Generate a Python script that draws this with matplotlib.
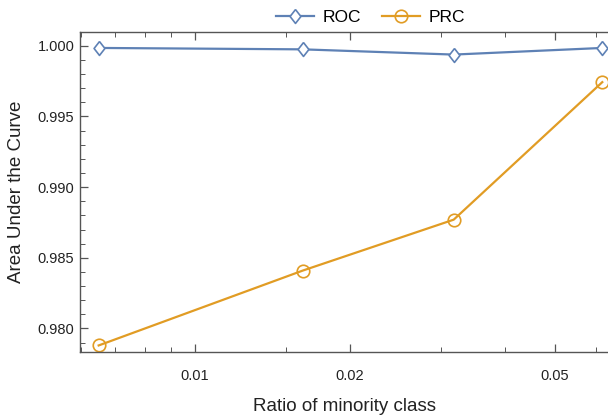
import matplotlib.pyplot as plt
from matplotlib.ticker import FixedLocator, NullFormatter, FixedFormatter

plt.rcParams['font.family'] = ['Liberation Sans', 'DejaVu Sans']

# data
ratio = [0.0065, 0.0162, 0.0318, 0.0618]
roc = [0.99985, 0.99975, 0.99938, 0.99985]
prc = [0.9788, 0.9841, 0.9877, 0.99743]

blue = '#5E81B5'
orange = '#E19C24'
axis_col = '#555555'

fig = plt.figure(figsize=(6.08, 4.17), dpi=100)
ax = fig.add_axes([0.1316, 0.156, 0.8684, 0.767])

diamond = [(0, 1), (0.78, 0), (0, -1), (-0.78, 0), (0, 1)]
ax.plot(ratio, roc, color=blue, linewidth=1.6, marker=diamond, markersize=10,
        markerfacecolor='white', markeredgecolor=blue, markeredgewidth=1.2,
        label='ROC')
ax.plot(ratio, prc, color=orange, linewidth=1.6, marker='o', markersize=9,
        markerfacecolor='none', markeredgecolor=orange, markeredgewidth=1.2,
        label='PRC')

ax.set_xscale('log')
ax.set_xlim(0.00598, 0.0634)
ax.set_ylim(0.97834, 1.00097)

ax.xaxis.set_major_locator(FixedLocator([0.01, 0.02, 0.05]))
ax.xaxis.set_major_formatter(FixedFormatter(['0.01', '0.02', '0.05']))
ax.xaxis.set_minor_locator(FixedLocator([0.006, 0.007, 0.008, 0.009, 0.015,
                                         0.03, 0.04, 0.06]))
ax.xaxis.set_minor_formatter(NullFormatter())

yt = [0.980, 0.985, 0.990, 0.995, 1.000]
ax.yaxis.set_major_locator(FixedLocator(yt))
ax.yaxis.set_major_formatter(FixedFormatter([f'{v:.3f}' for v in yt]))
ax.yaxis.set_minor_locator(FixedLocator([0.979 + 0.001 * i for i in range(22)]))

ax.tick_params(which='both', direction='in', top=True, right=False,
               color=axis_col, labelsize=10.5, labelcolor='#222222')
ax.tick_params(which='major', length=6, width=0.9)
ax.tick_params(which='minor', length=3.5, width=0.7)
ax.tick_params(axis='x', which='both', pad=12)
ax.tick_params(axis='y', which='both', pad=4)

for s in ['left', 'bottom', 'top']:
    ax.spines[s].set_color(axis_col)
    ax.spines[s].set_linewidth(1.0)
ax.spines['right'].set_visible(False)

ax.set_xlabel('Ratio of minority class', fontsize=13.5, color='#222222', labelpad=11)
ax.set_ylabel('Area Under the Curve', fontsize=13.5, color='#222222', labelpad=9)

ax.legend(loc='lower center', bbox_to_anchor=(0.55, 0.995), ncol=2, frameon=False,
          fontsize=12.5, handlelength=2.2, columnspacing=1.2, borderaxespad=0.1,
          handletextpad=0.5)

fig.savefig('out.png', dpi=100)
